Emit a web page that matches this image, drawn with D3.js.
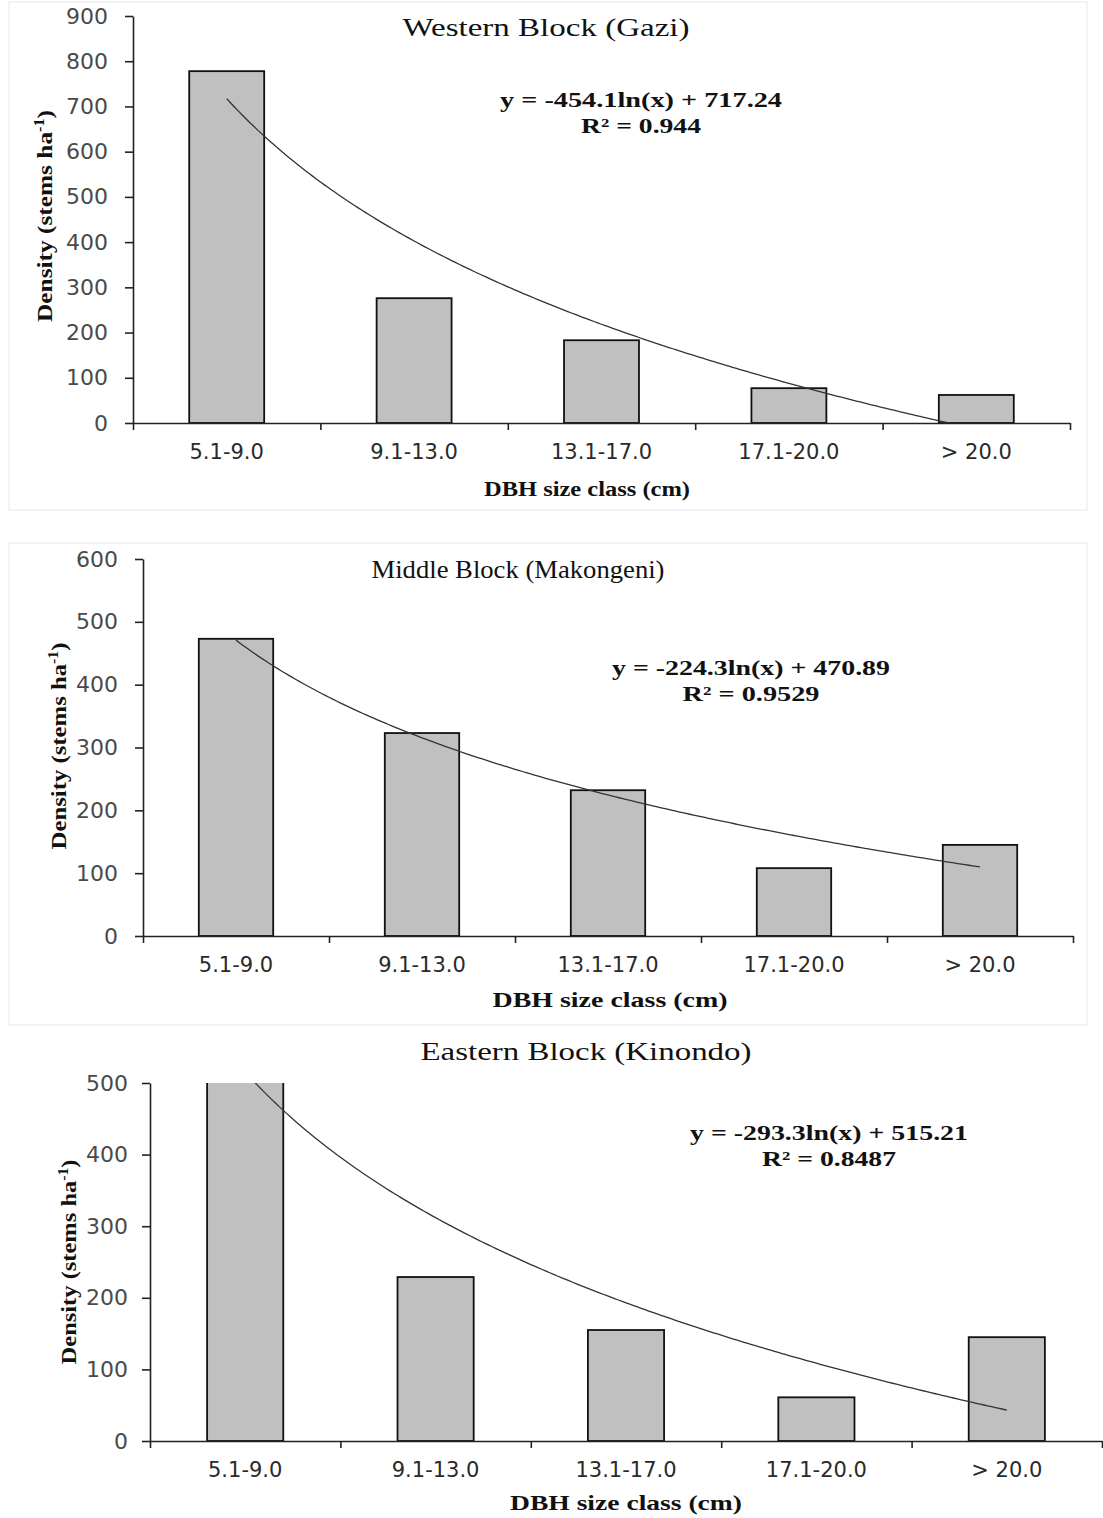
<!DOCTYPE html>
<html>
<head>
<meta charset="utf-8">
<script src="https://cdn.jsdelivr.net/npm/d3@7"></script>
<style>
  body { margin: 0; background: #fff; }
  svg { display: block; }
</style>
</head>
<body>
<svg id="chart" width="1103" height="1518"></svg>
<script>
// DBH size classes shared by the three mangrove blocks
const sizeClasses = ["5.1-9.0", "9.1-13.0", "13.1-17.0", "17.1-20.0", "> 20.0"];

// Stem density (stems per hectare) for each size class
const westernDensity = [778, 276, 183, 77, 62];
const middleDensity  = [473, 323, 232, 108, 145];
const easternDensity = [530, 229, 155, 61, 145];

// Y-axis tick values
const westernTicks = [0, 100, 200, 300, 400, 500, 600, 700, 800, 900];
const middleTicks  = [0, 100, 200, 300, 400, 500, 600];
const easternTicks = [0, 100, 200, 300, 400, 500];

// Logarithmic trend lines: y = slope * ln(x) + intercept
const westernFit = [-454.1, 717.24];
const middleFit  = [-224.3, 470.89];
const easternFit = [-293.3, 515.21];
const fitR2 = ["0.944", "0.9529", "0.8487"];

const blockTitles = ["Western Block (Gazi)", "Middle Block (Makongeni)", "Eastern Block (Kinondo)"];

const svg = d3.select("#chart");
const defs = svg.append("defs");

const SERIF = "'Liberation Serif', 'Times New Roman', serif";
const SANS = "'DejaVu Sans', Verdana, sans-serif";

// faint frames around the first two panels
svg.append("rect").attr("x", 9).attr("y", 2).attr("width", 1078).attr("height", 508)
  .attr("fill", "none").attr("stroke", "#efefef").attr("stroke-width", 1.5);
svg.append("rect").attr("x", 9).attr("y", 543).attr("width", 1078).attr("height", 482)
  .attr("fill", "none").attr("stroke", "#f2f2f2").attr("stroke-width", 1.5);

function stretchedText(g, txt, cx, cy, size, weight, length) {
  return g.append("text")
    .attr("x", cx).attr("y", cy)
    .attr("text-anchor", "middle")
    .attr("font-family", SERIF)
    .attr("font-size", size)
    .attr("font-weight", weight)
    .attr("fill", "#111")
    .attr("textLength", length)
    .attr("lengthAdjust", "spacingAndGlyphs")
    .text(txt);
}

function drawPanel(p, idx) {
  const g = svg.append("g");

  const x = d3.scaleBand().domain(sizeClasses)
    .range([p.left, p.right]).paddingInner(0.6).paddingOuter(0.3);
  const y = d3.scaleLinear().domain([0, d3.max(p.ticks)]).range([p.bottom, p.top]);

  const clipId = "plot-clip-" + idx;
  defs.append("clipPath").attr("id", clipId).append("rect")
    .attr("x", p.left).attr("y", p.top)
    .attr("width", p.right - p.left).attr("height", p.bottom - p.top);

  const plot = g.append("g").attr("clip-path", `url(#${clipId})`);

  // bars
  plot.selectAll("rect.bar").data(p.values).join("rect")
    .attr("class", "bar")
    .attr("x", (d, i) => x(sizeClasses[i]))
    .attr("y", d => y(d))
    .attr("width", x.bandwidth())
    .attr("height", d => y(0) - y(d))
    .attr("fill", "#c0c0c0")
    .attr("stroke", "#111")
    .attr("stroke-width", 1.8);

  // logarithmic trend line across the class positions 1..5
  const half = x.bandwidth() / 2;
  const xFit = d3.scaleLinear().domain([1, sizeClasses.length])
    .range([x(sizeClasses[0]) + half, x(sizeClasses[sizeClasses.length - 1]) + half]);
  const [slope, intercept] = p.fit;
  const fitPoints = d3.range(1, sizeClasses.length + 0.0001, 0.02)
    .map(t => [xFit(t), y(slope * Math.log(t) + intercept)]);
  plot.append("path")
    .attr("d", d3.line()(fitPoints))
    .attr("fill", "none")
    .attr("stroke", "#333")
    .attr("stroke-width", 1.3);

  // y axis
  const yAxis = g.append("g")
    .attr("transform", `translate(${p.left},0)`)
    .call(d3.axisLeft(y).tickValues(p.ticks).tickSize(8).tickSizeOuter(0).tickPadding(p.tickPad));
  yAxis.selectAll("path, line").attr("stroke", "#222").attr("stroke-width", 1.6);
  yAxis.selectAll("text")
    .attr("font-family", SANS).attr("font-size", 22).attr("fill", "#4a4a4a");

  // x axis line with ticks at class boundaries
  const xb = d3.scaleLinear().domain([0, sizeClasses.length]).range([p.left, p.right]);
  const xAxis = g.append("g")
    .attr("transform", `translate(0,${p.bottom})`)
    .call(d3.axisBottom(xb).tickValues(d3.range(sizeClasses.length + 1))
      .tickSize(7).tickSizeOuter(0).tickFormat(""));
  xAxis.selectAll("path, line").attr("stroke", "#222").attr("stroke-width", 1.6);

  // class labels centred under the bars
  const xLab = g.append("g")
    .attr("transform", `translate(0,${p.bottom})`)
    .call(d3.axisBottom(x).tickSize(0).tickPadding(21));
  xLab.select(".domain").remove();
  xLab.selectAll("text")
    .attr("font-family", SANS).attr("font-size", 21).attr("fill", "#2a2a2a");

  // panel title
  stretchedText(g, blockTitles[idx], p.titleX, p.titleY, 26, "normal", p.titleLen);

  // trend equation and R²
  const eq = `y = ${slope}ln(x) + ${intercept}`;
  stretchedText(g, eq, p.eqX, p.eqY, 21, "bold", p.eqLen);
  stretchedText(g, `R² = ${fitR2[idx]}`, p.eqX, p.eqY + 26, 21, "bold", p.r2Len);

  // x-axis title
  stretchedText(g, "DBH size class (cm)", p.xtX, p.xtY, 21, "bold", p.xtLen);

  // y-axis title with superscript, stretched along its length
  const ytWrap = g.append("g");
  const yt = ytWrap.append("text")
    .attr("text-anchor", "middle")
    .attr("dy", "0.35em")
    .attr("font-family", SERIF)
    .attr("font-size", 22)
    .attr("font-weight", "bold")
    .attr("fill", "#111");
  yt.append("tspan").text("Density (stems ha");
  yt.append("tspan").attr("dy", -8).attr("font-size", 14).text("-1");
  yt.append("tspan").attr("dy", 8).text(")");
  const natural = yt.node().getBBox().width || p.ytLen;
  ytWrap.attr("transform",
    `translate(${p.ytX},${p.ytY}) rotate(-90) scale(${p.ytLen / natural},1)`);
}

drawPanel({
  values: westernDensity, ticks: westernTicks, fit: westernFit,
  left: 133, right: 1070, top: 16, bottom: 423, tickPad: 17,
  titleX: 546, titleY: 36, titleLen: 287,
  eqX: 641, eqY: 107, eqLen: 282, r2Len: 120,
  xtX: 587, xtY: 496, xtLen: 206,
  ytX: 44, ytY: 216, ytLen: 212
}, 0);

drawPanel({
  values: middleDensity, ticks: middleTicks, fit: middleFit,
  left: 143, right: 1073, top: 559, bottom: 936, tickPad: 17,
  titleX: 518, titleY: 578, titleLen: 293,
  eqX: 751, eqY: 675, eqLen: 278, r2Len: 137,
  xtX: 610, xtY: 1007, xtLen: 235,
  ytX: 58, ytY: 746, ytLen: 207
}, 1);

drawPanel({
  values: easternDensity, ticks: easternTicks, fit: easternFit,
  left: 150, right: 1102, top: 1083, bottom: 1441, tickPad: 14,
  titleX: 586, titleY: 1060, titleLen: 331,
  eqX: 829, eqY: 1140, eqLen: 278, r2Len: 134,
  xtX: 626, xtY: 1510, xtLen: 232,
  ytX: 68, ytY: 1262, ytLen: 205
}, 2);
</script>
</body>
</html>
